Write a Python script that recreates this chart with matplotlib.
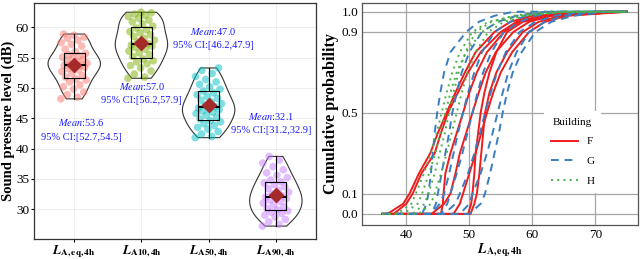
import numpy as np
import matplotlib
matplotlib.use("Agg")
import matplotlib.pyplot as plt

plt.rcParams["font.family"] = ["Liberation Serif", "DejaVu Serif"]
plt.rcParams["mathtext.fontset"] = "stix"

# ── left panel data: sound pressure levels (dB) ─────────────────────────
categories = [r"$\mathbfit{L}_{\mathbf{A,eq,4h}}$", r"$\mathbfit{L}_{\mathbf{A10,4h}}$",
              r"$\mathbfit{L}_{\mathbf{A50,4h}}$", r"$\mathbfit{L}_{\mathbf{A90,4h}}$"]
laeq = [48.2, 48.5, 48.9, 49.3, 49.8, 50.2, 50.5, 51.0, 51.3, 51.5, 51.8, 52.1, 52.4, 52.7,
        53.0, 53.2, 53.4, 53.6, 53.7, 53.7, 53.9, 54.1, 54.3, 54.5, 54.7, 54.9, 55.1, 55.3,
        55.5, 55.7, 56.0, 56.4, 56.9, 57.2, 57.5, 57.9, 58.2, 58.4, 58.7, 58.9]
la10 = [51.6, 51.8, 52.3, 52.8, 53.3, 53.7, 54.0, 54.3, 54.5, 54.8, 55.2, 55.5, 55.8, 56.1,
        56.4, 56.7, 56.9, 57.0, 57.1, 57.3, 57.6, 57.9, 58.2, 58.5, 58.8, 59.1, 59.3, 59.6,
        59.9, 60.2, 60.6, 60.9, 61.2, 61.5, 61.8, 62.0, 62.2, 62.4, 62.5]
la50 = [41.8, 42.0, 42.4, 42.8, 43.2, 43.5, 43.8, 44.1, 44.4, 44.6, 44.9, 45.2, 45.5, 45.8,
        46.0, 46.2, 46.4, 46.6, 46.7, 46.9, 47.1, 47.4, 47.7, 48.0, 48.3, 48.6, 48.9, 49.2,
        49.5, 49.8, 50.2, 50.6, 51.0, 51.4, 51.9, 52.4, 52.9, 53.3]
la90 = [27.2, 27.5, 27.9, 28.3, 28.7, 29.0, 29.3, 29.5, 29.7, 29.9, 30.1, 30.4, 30.7, 31.0,
        31.3, 31.5, 31.7, 31.9, 32.0, 32.2, 32.5, 32.8, 33.1, 33.4, 33.7, 34.0, 34.3, 34.5,
        34.8, 35.2, 35.6, 36.0, 36.5, 37.0, 37.6, 38.1, 38.7]
groups = [laeq, la10, la50, la90]
means_txt = ["53.6", "57.0", "47.0", "32.1"]
ci_txt = ["[52.7,54.5]", "[56.2,57.9]", "[46.2,47.9]", "[31.2,32.9]"]
label_pos = [(1.1, 43.1), (2.0, 49.1), (3.07, 58.2), (3.93, 44.1)]
group_colors = ["#F8766D", "#7CAE00", "#00BFC4", "#C77CFF"]

# ── right panel data: cumulative curves, x (dB) at each probability level ──
prob_levels = [0.0, 0.0, 0.05, 0.1, 0.2, 0.3, 0.4, 0.5, 0.6, 0.7, 0.8, 0.9, 0.95, 0.98, 1.0, 1.0]
x_start, x_end = 36.2, 75.0
curves_F = [
    [37.0, 39.5, 40.5, 42.0, 43.8, 45.0, 46.4, 47.8, 49.3, 51.0, 54.0, 56.5, 60.0, 70.0],
    [38.0, 40.0, 41.0, 42.4, 44.5, 45.5, 46.6, 48.2, 49.8, 51.8, 55.0, 57.5, 61.5, 72.0],
    [45.5, 45.8, 45.9, 46.2, 47.0, 48.0, 49.0, 50.0, 51.2, 52.8, 55.5, 58.0, 61.5, 70.0],
    [44.0, 46.0, 47.0, 47.8, 48.5, 49.5, 50.5, 51.5, 52.6, 54.2, 57.0, 59.5, 63.0, 70.0],
    [49.8, 50.3, 50.5, 50.8, 51.0, 51.4, 51.8, 52.4, 53.2, 54.3, 56.0, 58.5, 63.0, 75.0],
    [50.2, 50.8, 51.2, 51.6, 51.9, 52.2, 52.5, 53.2, 54.3, 56.0, 58.5, 61.0, 64.5, 74.0],
    [47.5, 48.5, 49.0, 50.0, 51.0, 51.9, 52.8, 53.8, 55.0, 56.8, 59.5, 62.0, 65.5, 75.0],
]
curves_G = [
    [42.5, 43.2, 43.5, 43.9, 44.2, 44.5, 44.9, 45.4, 46.0, 47.0, 49.5, 51.5, 54.0, 57.0],
    [44.0, 44.7, 45.0, 45.6, 46.2, 46.8, 47.3, 48.0, 48.8, 50.0, 52.0, 54.5, 57.5, 62.0],
    [44.0, 45.3, 46.0, 46.8, 47.5, 48.2, 49.0, 49.8, 50.8, 52.0, 54.0, 56.5, 59.0, 63.0],
    [45.5, 46.5, 47.0, 48.0, 48.9, 49.7, 50.5, 51.3, 52.2, 53.5, 55.5, 58.0, 60.5, 64.0],
    [46.0, 47.8, 48.5, 49.8, 50.8, 51.7, 52.5, 53.4, 54.4, 55.8, 58.0, 60.5, 63.5, 68.0],
    [48.5, 50.0, 50.5, 51.8, 52.8, 53.7, 54.5, 55.3, 56.2, 57.5, 59.5, 62.0, 65.0, 70.0],
    [50.0, 51.8, 52.5, 53.3, 54.0, 54.7, 55.3, 56.0, 56.9, 58.3, 60.5, 63.0, 66.5, 72.0],
]
curves_H = [
    [38.5, 40.8, 41.5, 42.8, 43.9, 44.8, 45.6, 46.4, 47.3, 48.5, 50.5, 53.0, 57.5, 65.0],
    [39.5, 41.8, 42.5, 43.6, 44.6, 45.4, 46.2, 47.0, 48.0, 49.5, 52.0, 54.5, 58.5, 66.0],
    [41.0, 42.9, 43.5, 44.5, 45.3, 46.1, 46.8, 47.5, 48.3, 49.4, 51.0, 53.5, 57.0, 62.0],
    [42.0, 43.9, 44.5, 45.5, 46.4, 47.2, 48.0, 48.8, 49.7, 51.0, 53.0, 55.5, 59.0, 64.0],
]
buildings = {"F": curves_F, "G": curves_G, "H": curves_H}
building_styles = {"F": dict(color="#EE1C1C", linestyle="-"),
                   "G": dict(color="#3A7DC0", linestyle=(0, (4, 3))),
                   "H": dict(color="#4DAF4A", linestyle=(0, (1, 2.2)))}

fig = plt.figure(figsize=(6.4, 2.59), dpi=100)

# ═══════════════════════════════════════════════════════════════════════
#  LEFT: violin + box + jitter
# ═══════════════════════════════════════════════════════════════════════
ax = fig.add_axes([0.053, 0.078, 0.441, 0.911])
pos = np.arange(1, len(groups) + 1)

vp = ax.violinplot(groups, positions=pos, widths=0.78, showextrema=False, bw_method=0.45)
for body in vp["bodies"]:
    body.set_facecolor("none")
    body.set_edgecolor("#333333")
    body.set_linewidth(0.8)
    body.set_alpha(1)

for i, vals in enumerate(groups):
    n = len(vals)
    jit = ((np.arange(n) * 0.618034) % 1 - 0.5) * 0.4
    ax.scatter(pos[i] + jit, vals, s=30, color=group_colors[i], alpha=0.5,
               edgecolors="none", zorder=2)

ax.boxplot(groups, positions=pos, widths=0.31, whis=1.5, showfliers=False,
           patch_artist=False, manage_ticks=False,
           boxprops=dict(color="black", linewidth=0.8),
           whiskerprops=dict(color="black", linewidth=0.8),
           capprops=dict(linewidth=0),
           medianprops=dict(color="black", linewidth=1.4), zorder=3)

ax.scatter(pos, [np.mean(g) for g in groups], marker="D", s=50, color="#A52A2A", zorder=4)

for i, (tx, ty) in enumerate(label_pos):
    ax.text(tx, ty + 1.2, r"$\it{Mean}$:" + means_txt[i], ha="center", va="center",
            color="#1A1AFF", fontsize=7.5)
    ax.text(tx, ty - 1.2, "95% CI:" + ci_txt[i], ha="center", va="center",
            color="#1A1AFF", fontsize=7.5)

ax.set_xlim(0.4, 4.6)
ax.set_ylim(25.1, 64.05)
ax.set_yticks([30, 35, 40, 45, 50, 55, 60])
ax.set_xticks(pos)
ax.set_xticklabels(categories, fontsize=9)
ax.set_ylabel("Sound pressure level (dB)", fontsize=10.5, fontweight="bold")
ax.yaxis.set_label_coords(-0.066, 0.5)
ax.tick_params(labelsize=9.5, length=2.5, pad=1)
ax.tick_params(axis="x", pad=0.5)
ax.grid(color="#EBEBEB", linewidth=0.6)
ax.set_axisbelow(True)
for s in ax.spines.values():
    s.set_color("#333333")
    s.set_linewidth(0.9)

# ═══════════════════════════════════════════════════════════════════════
#  RIGHT: cumulative probability curves
# ═══════════════════════════════════════════════════════════════════════
ax2 = fig.add_axes([0.566, 0.132, 0.431, 0.857])
for name, curves in buildings.items():
    for k, xs in enumerate(curves):
        xfull = [x_start] + xs + [x_end]
        ax2.plot(xfull, prob_levels, linewidth=1.4, label=name if k == 0 else None,
                 **building_styles[name])

ax2.set_xlim(33.0, 76.8)
ax2.set_ylim(-0.054, 1.044)
ax2.set_xticks([40, 50, 60, 70])
ax2.set_yticks([0.0, 0.1, 0.5, 0.9, 1.0])
ax2.set_yticklabels(["0.0", "0.1", "0.5", "0.9", "1.0"])
ax2.grid(color="#A6A6A6", linewidth=0.9)
ax2.set_axisbelow(True)
ax2.tick_params(labelsize=9.5, length=0, pad=3)
for s in ax2.spines.values():
    s.set_color("#555555")
    s.set_linewidth(0.9)
ax2.set_ylabel("Cumulative probability", fontsize=11.5, fontweight="bold", labelpad=2)
ax2.set_xlabel(r"$\mathbfit{L}_{\mathbf{A,eq,4h}}$", fontsize=10, labelpad=0)

leg = ax2.legend(title="Building", loc="lower left", bbox_to_anchor=(0.64, 0.12),
                 fontsize=8, title_fontsize=8, frameon=True, framealpha=1,
                 edgecolor="white", handlelength=2.4, labelspacing=0.9, borderpad=0.6)
leg.get_frame().set_linewidth(0)

fig.savefig("out.png", dpi=100)
